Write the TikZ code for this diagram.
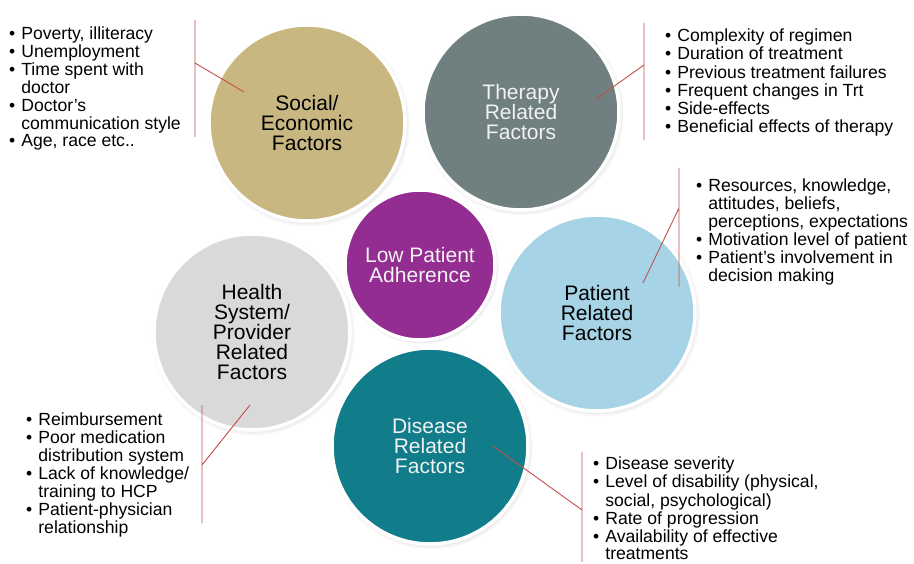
\documentclass[tikz,border=0pt]{standalone}
\usepackage{fontspec}
\setmainfont{Liberation Sans}
\usetikzlibrary{shadows}

\definecolor{tan}{RGB}{200,183,128}
\definecolor{slate}{RGB}{112,127,127}
\definecolor{plum}{RGB}{148,45,146}
\definecolor{skyblue}{RGB}{166,212,230}
\definecolor{lightgray}{RGB}{217,217,217}
\definecolor{teal}{RGB}{17,124,138}
\definecolor{tick}{RGB}{192,80,77}
\definecolor{paletext}{RGB}{242,242,242}

\begin{document}
\begin{tikzpicture}[x=1pt, y=-1pt,
factor/.style = {circle, minimum size=196pt, draw=white, line width=3.5pt,
	align=center, font=\fontsize{21}{20}\selectfont,
	circular drop shadow={shadow scale=1.04, shadow xshift=1pt,
		shadow yshift=-1.5pt, opacity=.5}},
bullets/.style = {inner sep=0pt, anchor=north west,
	font=\fontsize{17.6}{17.6}\selectfont},
leader/.style = {draw=tick, line width=0.9pt}]
\useasboundingbox (0,0) rectangle (914,564);

\node[factor, fill=tan] (social) at (307,123) {Social/\\Economic\\Factors};
\node[factor, fill=slate, text=paletext] (therapy) at (521,112) {Therapy\\Related\\Factors};
\node[factor, fill=skyblue] (patient) at (597,313) {Patient\\Related\\Factors};
\node[factor, fill=lightgray] (health) at (252,332) {Health\\System/\\Provider\\Related\\Factors};
\node[factor, fill=teal, text=paletext] (disease) at (430,446) {Disease\\Related\\Factors};
\node[factor, minimum size=150pt, fill=plum, text=paletext] (adherence) at (420,265) {Low Patient\\Adherence};

\node[bullets] (socialList) at (9,26.7) {\begin{tabular}{@{}l@{\hspace{6pt}}l@{}}
\textbullet & Poverty, illiteracy\\
\textbullet & Unemployment\\
\textbullet & Time spent with\\
 & doctor\\
\textbullet & Doctor’s\\
 & communication style\\
\textbullet & Age, race etc..
\end{tabular}};
\node[bullets] (therapyList) at (665,29) {\begin{tabular}{@{}l@{\hspace{6pt}}l@{}}
\textbullet & Complexity of regimen\\
\textbullet & Duration of treatment\\
\textbullet & Previous treatment failures\\
\textbullet & Frequent changes in Trt\\
\textbullet & Side-effects\\
\textbullet & Beneficial effects of therapy
\end{tabular}};
\node[bullets] (patientList) at (696,178.5) {\begin{tabular}{@{}l@{\hspace{6pt}}l@{}}
\textbullet & Resources, knowledge,\\
 & attitudes, beliefs,\\
 & perceptions, expectations\\
\textbullet & Motivation level of patient\\
\textbullet & Patient’s involvement in\\
 & decision making
\end{tabular}};
\node[bullets] (healthList) at (26,412.7) {\begin{tabular}{@{}l@{\hspace{6pt}}l@{}}
\textbullet & Reimbursement\\
\textbullet & Poor medication\\
 & distribution system\\
\textbullet & Lack of knowledge/\\
 & training to HCP\\
\textbullet & Patient-physician\\
 & relationship
\end{tabular}};
\node[bullets] (diseaseList) at (593,457) {\begin{tabular}{@{}l@{\hspace{6pt}}l@{}}
\textbullet & Disease severity\\
\textbullet & Level of disability (physical,\\
 & social, psychological)\\
\textbullet & Rate of progression\\
\textbullet & Availability of effective\\
 & treatments
\end{tabular}};

\coordinate (socialTop) at (195,20);
\coordinate (socialBot) at (195,137);
\coordinate (socialKnee) at (195,63);
\coordinate (socialIn) at (244,92);
\coordinate (therapyTop) at (644,23);
\coordinate (therapyBot) at (644,140);
\coordinate (therapyKnee) at (644,65);
\coordinate (therapyIn) at (596,99);
\coordinate (patientTop) at (679,168);
\coordinate (patientBot) at (679,287);
\coordinate (patientKnee) at (679,208);
\coordinate (patientIn) at (643,283);
\coordinate (healthTop) at (202,405);
\coordinate (healthBot) at (202,523);
\coordinate (healthKnee) at (202,465);
\coordinate (healthIn) at (250,405);
\coordinate (diseaseTop) at (582,452);
\coordinate (diseaseBot) at (582,562);
\coordinate (diseaseKnee) at (582,510);
\coordinate (diseaseIn) at (493,446);

\draw[leader] (socialTop) -- (socialBot) (socialKnee) -- (socialIn);
\draw[leader] (therapyTop) -- (therapyBot) (therapyKnee) -- (therapyIn);
\draw[leader] (patientTop) -- (patientBot) (patientKnee) -- (patientIn);
\draw[leader] (healthTop) -- (healthBot) (healthKnee) -- (healthIn);
\draw[leader] (diseaseTop) -- (diseaseBot) (diseaseKnee) -- (diseaseIn);
\end{tikzpicture}
\end{document}
